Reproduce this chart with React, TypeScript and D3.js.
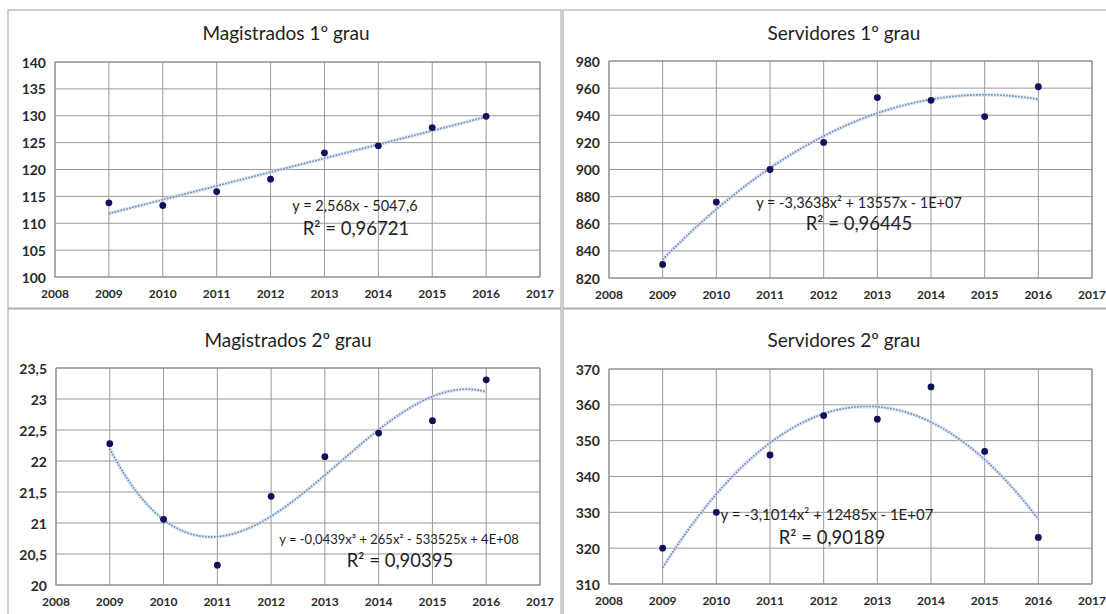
import React from 'react';
import * as d3 from 'd3';

// anos observados e ticks do eixo x
const years = [2009, 2010, 2011, 2012, 2013, 2014, 2015, 2016];
const xTicks = [2008, 2009, 2010, 2011, 2012, 2013, 2014, 2015, 2016, 2017];

// valores
const magistrados1 = [113.8, 113.3, 115.9, 118.2, 123.1, 124.4, 127.8, 129.9];
const servidores1 = [830, 876, 900, 920, 953, 951, 939, 961];
const magistrados2 = [22.28, 21.06, 20.32, 21.43, 22.07, 22.45, 22.65, 23.31];
const servidores2 = [320, 330, 346, 357, 356, 365, 347, 323];

const yTicksMag1 = [100, 105, 110, 115, 120, 125, 130, 135, 140];
const yTicksServ1 = [820, 840, 860, 880, 900, 920, 940, 960, 980];
const yTicksMag2 = [20, 20.5, 21, 21.5, 22, 22.5, 23, 23.5];
const yTicksServ2 = [310, 320, 330, 340, 350, 360, 370];

const titles = ['Magistrados 1º grau', 'Servidores 1º grau', 'Magistrados 2º grau', 'Servidores  2º grau'];
const equations = [
  'y = 2,568x - 5047,6',
  'y = -3,3638x² + 13557x - 1E+07',
  'y = -0,0439x³ + 265x² - 533525x + 4E+08',
  'y = -3,1014x² + 12485x - 1E+07',
];
const r2Labels = ['R² = 0,96721', 'R² = 0,96445', 'R² = 0,90395', 'R² = 0,90189'];
const degrees = [1, 2, 3, 2];

const FONT = 'Lato, "Open Sans", sans-serif';

// minimos quadrados (x centrado para estabilidade)
function polyfit(xs: number[], ys: number[], deg: number) {
  const c = d3.mean(xs) as number;
  const n = deg + 1;
  const A: number[][] = [];
  for (let i = 0; i < n; i++) {
    A.push([]);
    for (let j = 0; j < n; j++) A[i].push(d3.sum(xs, x => Math.pow(x - c, i + j)));
    A[i].push(d3.sum(xs, (x, k) => Math.pow(x - c, i) * ys[k]));
  }
  for (let i = 0; i < n; i++) {
    let p = i;
    for (let r = i + 1; r < n; r++) if (Math.abs(A[r][i]) > Math.abs(A[p][i])) p = r;
    [A[i], A[p]] = [A[p], A[i]];
    for (let r = 0; r < n; r++) {
      if (r === i) continue;
      const f = A[r][i] / A[i][i];
      for (let k = i; k <= n; k++) A[r][k] -= f * A[i][k];
    }
  }
  const coef = A.map((row, i) => row[n] / row[i]);
  return (x: number) => coef.reduce((s, a, i) => s + a * Math.pow(x - c, i), 0);
}

const fmt = (v: number) => String(v).replace('.', ',');

type Layout = {
  x0: number; x1: number; y0: number; y1: number;
  tx: number; ty: number;
  ex: number; ey: number; es: number;
  rx: number; ry: number;
};

const layouts: Layout[] = [
  { x0: 55, x1: 540, y0: 62, y1: 277, tx: 286, ty: 32, ex: 355, ey: 205, es: 14.5, rx: 356, ry: 228 },
  { x0: 609, x1: 1092, y0: 61, y1: 278, tx: 844, ty: 32, ex: 859, ey: 202, es: 14.5, rx: 859, ry: 223 },
  { x0: 56, x1: 540, y0: 368, y1: 585, tx: 288, ty: 339, ex: 399, ey: 539, es: 13, rx: 400, ry: 560 },
  { x0: 609, x1: 1092, y0: 369, y1: 584, tx: 844, ty: 339, ex: 827, ey: 514, es: 15, rx: 832, ry: 537 },
];

function Panel({ idx, values, yTicks }: { idx: number; values: number[]; yTicks: number[] }) {
  const L = layouts[idx];
  const x = d3.scaleLinear().domain([2008, 2017]).range([L.x0, L.x1]);
  const y = d3.scaleLinear().domain([yTicks[0], yTicks[yTicks.length - 1]]).range([L.y1, L.y0]);
  const fit = polyfit(years, values, degrees[idx]);
  const samples = d3.range(2009, 2016.0001, 0.05);
  const line = d3.line<number>().x(d => x(d)).y(d => y(fit(d)));
  const path = line(samples) || '';

  return (
    <g>
      <text x={L.tx} y={L.ty} textAnchor="middle" dominantBaseline="central"
        fontFamily={FONT} fontSize={19} fill="#1e1e1e">{titles[idx]}</text>
      {yTicks.map(t => (
        <line key={'h' + t} x1={L.x0} x2={L.x1} y1={y(t)} y2={y(t)} stroke="#999" strokeWidth={1} />
      ))}
      {xTicks.map(t => (
        <line key={'v' + t} x1={x(t)} x2={x(t)} y1={L.y0} y2={L.y1} stroke="#999" strokeWidth={1} />
      ))}
      <rect x={L.x0} y={L.y0} width={L.x1 - L.x0} height={L.y1 - L.y0} fill="none" stroke="#888" strokeWidth={1} />
      {yTicks.map(t => (
        <text key={'yl' + t} x={L.x0 - 9} y={y(t)} textAnchor="end" dominantBaseline="central"
          fontFamily={FONT} fontSize={14} fontWeight={700} fill="#2a2a2a">{fmt(t)}</text>
      ))}
      {xTicks.map(t => (
        <text key={'xl' + t} x={x(t)} y={L.y1 + 16} textAnchor="middle" dominantBaseline="central"
          fontFamily={FONT} fontSize={12} fontWeight={700} fill="#2a2a2a">{t}</text>
      ))}
      <path d={path} fill="none" stroke="#c9d8ec" strokeWidth={4} strokeOpacity={0.6} />
      <path d={path} fill="none" stroke="#6a86b4" strokeWidth={1.6} strokeDasharray="1.6 1.4" />
      {values.map((v, i) => (
        <circle key={'p' + i} cx={x(years[i])} cy={y(v)} r={3.4} fill="#10105c" />
      ))}
      <text x={L.ex} y={L.ey} textAnchor="middle" dominantBaseline="central"
        fontFamily={FONT} fontSize={L.es} fill="#1e1e1e">{equations[idx]}</text>
      <text x={L.rx} y={L.ry} textAnchor="middle" dominantBaseline="central"
        fontFamily={FONT} fontSize={18.5} fill="#1e1e1e">{r2Labels[idx]}</text>
    </g>
  );
}

export default function App() {
  const series = [magistrados1, servidores1, magistrados2, servidores2];
  const ticks = [yTicksMag1, yTicksServ1, yTicksMag2, yTicksServ2];
  return (
    <svg width={1106} height={614} style={{ position: 'absolute', left: 0, top: 0, background: '#fff' }}>
      <rect x={0} y={0} width={1106} height={614} fill="#fff" />
      {/* molduras dos paineis */}
      <rect x={8} y={10} width={553} height={298} fill="none" stroke="#9e9e9e" />
      <rect x={563} y={10} width={560} height={298} fill="none" stroke="#9e9e9e" />
      <rect x={8} y={309} width={553} height={320} fill="none" stroke="#9e9e9e" />
      <rect x={563} y={309} width={560} height={320} fill="none" stroke="#9e9e9e" />
      {series.map((s, i) => (
        <Panel key={i} idx={i} values={s} yTicks={ticks[i]} />
      ))}
    </svg>
  );
}
